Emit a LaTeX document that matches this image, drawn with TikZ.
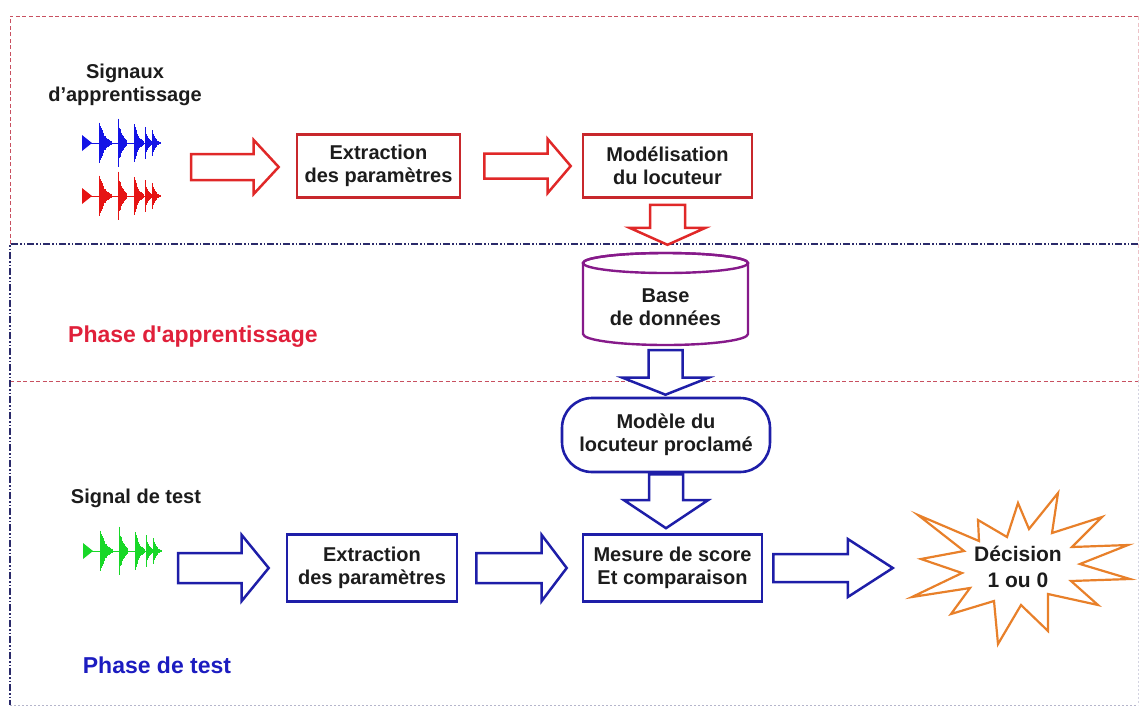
\documentclass[tikz,border=0pt]{standalone}
\usepackage{fontspec}
\setmainfont{Liberation Sans}
\usetikzlibrary{calc}

\definecolor{boxred}{HTML}{C8282C}
\definecolor{arrred}{HTML}{E02828}
\definecolor{boxblue}{HTML}{1E1EA8}
\definecolor{dbpurple}{HTML}{861A8A}
\definecolor{starorange}{HTML}{E8802A}
\definecolor{ink}{HTML}{1C1C1C}
\definecolor{framered}{HTML}{C85060}
\definecolor{framenavy}{HTML}{2A2A6A}
\definecolor{phred}{HTML}{E0203A}
\definecolor{phblue}{HTML}{1C1CC0}
\definecolor{wblue}{HTML}{1414E6}
\definecolor{wred}{HTML}{E61414}
\definecolor{wgreen}{HTML}{18D828}

\tikzset{
  ashaft/.store in=\ashaft, ahead/.store in=\ahead, ahlen/.store in=\ahlen,
  ashaft=13, ahead=27, ahlen=25,
  lbl/.style={font=\bfseries\fontsize{20}{23}\selectfont, text=ink, align=center},
  phase/.style={font=\bfseries\fontsize{23}{27}\selectfont},
  redbox/.style={lbl, draw=boxred, line width=2.6pt, inner sep=0pt, minimum height=63pt},
  bluebox/.style={lbl, draw=boxblue, line width=2.6pt, inner sep=0pt, minimum height=67pt},
  % hollow block arrow pointing right, from start to tip
  harrow/.style={draw=#1, line width=2.5pt, fill=white, line join=miter,
    to path={let \p1=(\tikztostart), \p2=(\tikztotarget) in
      (\x1,\y1+\ashaft pt) -- (\x2-\ahlen pt,\y1+\ashaft pt) -- (\x2-\ahlen pt,\y1+\ahead pt)
      -- (\x2,\y1) -- (\x2-\ahlen pt,\y1-\ahead pt) -- (\x2-\ahlen pt,\y1-\ashaft pt)
      -- (\x1,\y1-\ashaft pt) -- cycle}},
  % hollow block arrow pointing down
  varrow/.style={draw=#1, line width=2.5pt, fill=white, line join=miter,
    to path={let \p1=(\tikztostart), \p2=(\tikztotarget) in
      (\x1-\ashaft pt,\y1) -- (\x1-\ashaft pt,\y2+\ahlen pt) -- (\x1-\ahead pt,\y2+\ahlen pt)
      -- (\x1,\y2) -- (\x1+\ahead pt,\y2+\ahlen pt) -- (\x1+\ashaft pt,\y2+\ahlen pt)
      -- (\x1+\ashaft pt,\y1) -- cycle}},
  % speech waveform made of decaying bursts
  wave/.pic={
    \draw[line width=0.6pt] (0,0) -- (78,0);
    \fill (0,-8) -- (10,0) -- (0,8) -- cycle;
    \foreach \bx/\ba/\bd/\bn in {17/24/5/30, 36/25/4/22, 52/22/4/24, 63/16/3/16, 70/15/3/20}{
      \foreach \k in {0,...,\bn}{
        \pgfmathsetmacro\hh{\ba*exp(-\k*0.4/\bd)*(0.55+0.45*abs(sin(\k*97+\bx*13)))}
        \draw[line width=0.8pt] (\bx+\k*0.4,-\hh) -- (\bx+\k*0.4,\hh);
      }
    }
  }
}

\begin{document}
\begin{tikzpicture}[x=1pt,y=-1pt]
\useasboundingbox (0,0) rectangle (1143,713);

% phase frames
\draw[framered, line width=1pt, dash pattern=on 4pt off 2.5pt] (10,244) -- (10,16) -- (1138,16);
\draw[framered, line width=1pt, dash pattern=on 4pt off 2.5pt] (10,381) -- (1138,381);
\draw[framered!35, line width=1pt, dash pattern=on 4pt off 2.5pt] (1138,16) -- (1138,381);
\draw[framenavy, line width=1.2pt, dash pattern=on 7pt off 2pt on 1.5pt off 2pt on 1.5pt off 2pt]
  (1138,244) -- (10,244) -- (10,705);
\draw[framenavy!35, line width=1pt, dash pattern=on 2pt off 2pt] (10,705) -- (1138,705);
\draw[framenavy!20, line width=1pt, dash pattern=on 2pt off 2pt] (1138,381) -- (1138,705);

% training phase
\node[lbl] (sigA) at (125,85) {Signaux\\d’apprentissage};
\node[inner sep=0pt, minimum width=80pt, minimum height=100pt] (train) at (121,167) {};
\pic[color=wblue] at (82,143) {wave};
\pic[color=wred] at (82,196) {wave};

\node[redbox, minimum width=163pt] (x1) at (378.5,166) {Extraction\\des paramètres};
\node[redbox, minimum width=169pt] (m1) at (667.5,166) {Modélisation\\du locuteur};

\node[lbl, inner sep=0pt, minimum width=165pt, minimum height=75pt] (db) at (665.5,307.5) {Base\\de données};
\begin{scope}[shift={(db.center)}]
  \draw[dbpurple, line width=2.4pt]
    (-82.5,-44.5) -- (-82.5,26.5) arc[start angle=180, end angle=0, x radius=82.5, y radius=11]
    -- (82.5,-44.5) arc[start angle=0, end angle=-180, x radius=82.5, y radius=10] -- cycle;
  \draw[dbpurple, line width=2.4pt] (0,-44.5) ellipse[x radius=82.5, y radius=10];
\end{scope}

\node[phase, text=phred] (pa) at (193,337) {Phase d\textquotesingle apprentissage};

\draw[harrow=arrred, ashaft=13, ahead=27, ahlen=25] ([xshift=30pt]train.east) to ([xshift=-17pt]x1.west);
\draw[harrow=arrred, ashaft=12.5, ahead=27, ahlen=23] ([xshift=23pt]x1.east) to ([xshift=-11pt]m1.west);
\draw[varrow=arrred, ashaft=17.5, ahead=38, ahlen=17] ([yshift=-6pt]m1.south) to ([yshift=25pt]db.north);

% test phase
\node[lbl, draw=boxblue, line width=2.6pt, rounded corners=30pt, inner sep=0pt,
      minimum width=208pt, minimum height=74pt] (mod) at (666,435) {Modèle du\\locuteur proclamé};
\draw[varrow=boxblue, ashaft=17, ahead=43, ahlen=17] ([yshift=-5pt]db.south) to ([yshift=2pt]mod.north);

\node[lbl] (sigT) at (136,498) {Signal de test};
\node[inner sep=0pt, minimum width=80pt, minimum height=50pt] (wt) at (123,568) {};
\pic[color=wgreen] at (83,551) {wave};

\node[bluebox, minimum width=170pt] (x2) at (372,568) {Extraction\\des paramètres};
\node[bluebox, minimum width=179pt] (mes) at (672.5,568) {Mesure de score\\Et comparaison};
\node[lbl, font=\bfseries\fontsize{21}{26}\selectfont, inner sep=0pt,
      minimum width=220pt, minimum height=140pt] (dec) at (1018,567) {Décision\\1 ou 0};
\begin{scope}[shift={(dec.center)}]
  \draw[starorange, line width=2.2pt, line join=miter]
    (40,-74) -- (34,-34) -- (84,-50) -- (54,-20) -- (110,-22) -- (62,-3) -- (112,12)
    -- (53,14) -- (80,38) -- (30,27) -- (30,64) -- (3,38) -- (-20,77) -- (-24,34)
    -- (-67,47) -- (-48,21) -- (-106,30) -- (-56,6) -- (-97,-8) -- (-54,-16)
    -- (-100,-52) -- (-39,-26) -- (-40,-47) -- (-11,-30) -- (0,-64) -- (11,-38) -- cycle;
\end{scope}

\node[phase, text=phblue] (pt) at (157,665) {Phase de test};

\draw[harrow=boxblue, ashaft=15, ahead=33, ahlen=27] ([xshift=15pt]wt.east) to ([xshift=-17pt]x2.west);
\draw[harrow=boxblue, ashaft=15, ahead=33, ahlen=25] ([xshift=18pt]x2.east) to ([xshift=-15pt]mes.west);
\draw[varrow=boxblue, ashaft=17, ahead=42, ahlen=28] ([yshift=-1pt]mod.south) to ([yshift=5pt]mes.north);
\draw[harrow=boxblue, ashaft=14, ahead=29, ahlen=45] ([xshift=10pt]mes.east) to ([xshift=-15pt]dec.west);
\end{tikzpicture}
\end{document}
